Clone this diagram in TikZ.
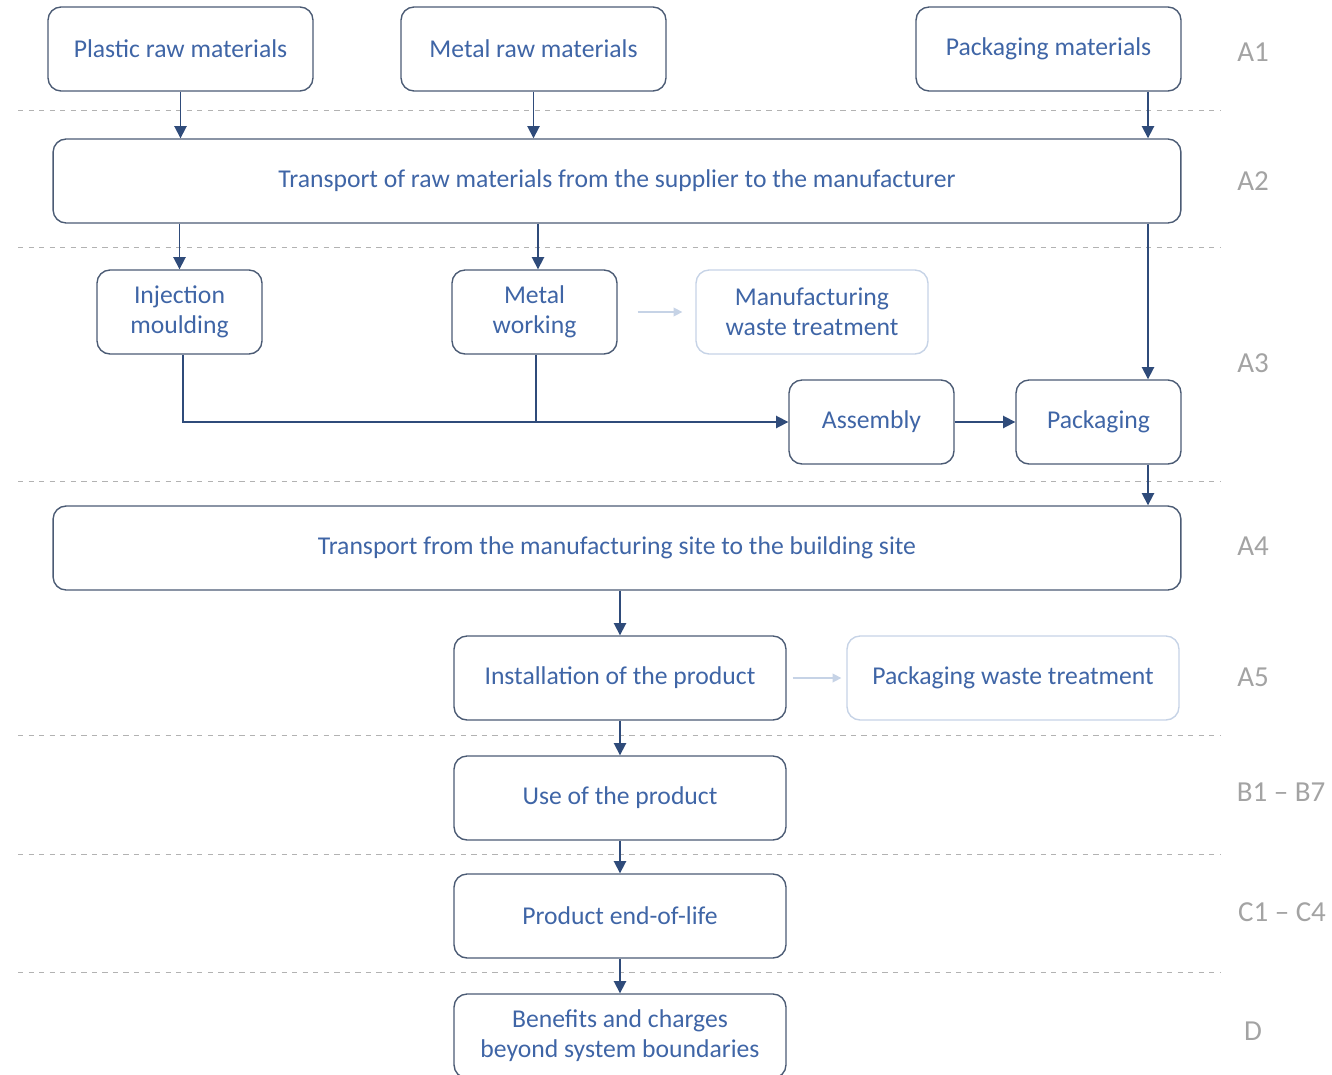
\documentclass[tikz,border=0pt]{standalone}
\usepackage{fontspec}
\setmainfont{Carlito}
\usepackage{xcolor}
\usetikzlibrary{arrows.meta, positioning}
\definecolor{boxline}{HTML}{4B5B74}
\definecolor{boxtext}{HTML}{3F65A6}
\definecolor{flow}{HTML}{2F4B7A}
\definecolor{faint}{HTML}{C6D3E6}
\definecolor{stage}{HTML}{A3A3A3}

\begin{document}
\begin{tikzpicture}[x=0.02cm, y=-0.02cm,
  box/.style={draw=boxline, line width=0.8pt, rounded corners=0.26cm, text=boxtext,
    minimum height=1.68cm, inner sep=0pt, align=center, font=\fontsize{14.6}{17}\selectfont},
  faintbox/.style={box, draw=faint},
  flowarrow/.style={flow, line width=1pt, -{Triangle[length=7pt,width=7pt]}},
  faintarrow/.style={faint, line width=0.9pt, -{Triangle[length=5pt,width=5pt]}},
  divider/.style={gray!60, dashed, line width=0.5pt},
  stagelabel/.style={text=stage, font=\fontsize{16.5}{19}\selectfont}]
\useasboundingbox (0,0) rectangle (1332,1075);
% phase dividers
\foreach \y in {110,247,481,735,854,972}
  \draw[divider] (18,\y) -- (1220,\y);
% A1
\node[box, minimum width=5.3cm] (plastic) at (180.5,49) {Plastic raw materials};
\node[box, minimum width=5.3cm] (metalraw) at (533.5,49) {Metal raw materials};
\node[box, minimum width=5.3cm] (packmat) at (1048.5,49) {Packaging materials};
% A2
\node[box, minimum width=22.56cm] (rawtrans) at (617,181) {Transport of raw materials from the supplier to the manufacturer};
% A3
\node[box, minimum width=3.3cm] (inject) at (179.5,312) {Injection\\moulding};
\node[box, minimum width=3.3cm] (metalwork) at (534.5,312) {Metal\\working};
\node[faintbox, minimum width=4.64cm] (mfgwaste) at (812,312) {Manufacturing\\waste treatment};
\node[box, minimum width=3.3cm] (assembly) at (871.5,422) {Assembly};
\node[box, minimum width=3.3cm] (packaging) at (1098.5,422) {Packaging};
% A4
\node[box, minimum width=22.56cm] (sitetrans) at (617,548) {Transport from the manufacturing site to the building site};
% A5 to D
\node[box, minimum width=6.64cm] (install) at (620,678) {Installation of the product};
\node[faintbox, minimum width=6.64cm] (packwaste) at (1013,678) {Packaging waste treatment};
\node[box, minimum width=6.64cm] (use) at (620,798) {Use of the product};
\node[box, minimum width=6.64cm] (endlife) at (620,916) {Product end-of-life};
\node[box, minimum width=6.64cm] (benefits) at (620,1036) {Benefits and charges\\beyond system boundaries};
% stage labels
\node[stagelabel] (lA1) at (1253,52) {A1};
\node[stagelabel] (lA2) at (1253,181) {A2};
\node[stagelabel] (lA3) at (1253,363) {A3};
\node[stagelabel] (lA4) at (1253,546) {A4};
\node[stagelabel] (lA5) at (1253,677) {A5};
\node[stagelabel] (lB) at (1281,792) {B1 -- B7};
\node[stagelabel] (lC) at (1282,912) {C1 -- C4};
\node[stagelabel] (lD) at (1253,1031) {D};
% flows
\coordinate (rail) at (1148,0);
\draw[flowarrow] (plastic.south) -- (plastic.south |- rawtrans.north);
\draw[flowarrow] (metalraw.south) -- (metalraw.south |- rawtrans.north);
\draw[flowarrow] (packmat.south -| rail) -- (rawtrans.north -| rail);
\draw[flowarrow] (rawtrans.south -| inject.north) -- (inject.north);
\draw[flowarrow] ([xshift=0.07cm]rawtrans.south -| metalwork.north) -- ([xshift=0.07cm]metalwork.north);
\draw[flowarrow] (rawtrans.south -| rail) -- (packaging.north -| rail);
\draw[flowarrow] ([xshift=0.07cm]inject.south) |- (assembly.west);
\draw[flow, line width=1pt] ([xshift=0.03cm]metalwork.south) -- ([xshift=0.03cm]metalwork.south |- assembly.west);
\draw[faintarrow] ([xshift=0.4cm]metalwork.east) -- ([xshift=-0.26cm]mfgwaste.west);
\draw[flowarrow] (assembly.east) -- (packaging.west);
\draw[flowarrow] (packaging.south -| rail) -- (sitetrans.north -| rail);
\draw[flowarrow] (sitetrans.south -| install.north) -- (install.north);
\draw[faintarrow] ([xshift=0.12cm]install.east) -- ([xshift=-0.1cm]packwaste.west);
\draw[flowarrow] (install.south) -- (use.north);
\draw[flowarrow] (use.south) -- (endlife.north);
\draw[flowarrow] (endlife.south) -- (benefits.north);
\end{tikzpicture}
\end{document}
